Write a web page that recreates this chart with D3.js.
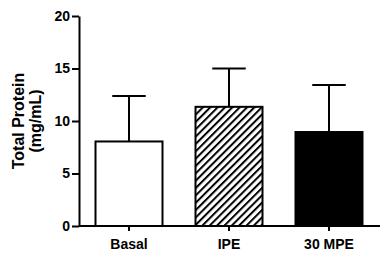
<!DOCTYPE html>
<html>
<head>
<meta charset="utf-8">
<script src="https://cdn.jsdelivr.net/npm/d3@7"></script>
<style>
  body { margin: 0; background: #fff; }
  text { font-family: "Liberation Sans", Arial, sans-serif; font-weight: bold; fill: #000; }
</style>
</head>
<body>
<div id="chart"></div>
<script>
// Chart values
const categories = ["Basal", "IPE", "30 MPE"];
const means = [8.05, 11.35, 8.95];
const errors = [4.33, 3.65, 4.48];
const yTicks = [0, 5, 10, 15, 20];
const fills = ["#fff", "url(#hatch)", "#000"];

const width = 392;
const height = 262;

const svg = d3.select("#chart")
    .append("svg")
    .attr("width", width)
    .attr("height", height);

// Diagonal hatching for the IPE bar
const pattern = svg.append("defs").append("pattern")
    .attr("id", "hatch")
    .attr("patternUnits", "userSpaceOnUse")
    .attr("width", 5.2)
    .attr("height", 5.2)
    .attr("patternTransform", "rotate(45)");
pattern.append("rect").attr("width", 5.2).attr("height", 5.2).attr("fill", "#fff");
pattern.append("rect").attr("width", 2).attr("height", 5.2).attr("fill", "#000");

// Scales
const x = d3.scaleBand()
    .domain(categories)
    .range([79, 379])
    .paddingInner(0.33)
    .paddingOuter(0.165);

const y = d3.scaleLinear()
    .domain([0, 20])
    .range([226, 16]);

const data = categories.map((c, i) => ({ name: c, mean: means[i], err: errors[i], fill: fills[i] }));

// Error bars (upper only)
const bw = x.bandwidth();
svg.selectAll(".err")
    .data(data)
    .enter()
    .append("line")
    .attr("x1", d => x(d.name) + bw / 2)
    .attr("x2", d => x(d.name) + bw / 2)
    .attr("y1", d => y(d.mean))
    .attr("y2", d => y(d.mean + d.err))
    .attr("stroke", "#000")
    .attr("stroke-width", 2);

svg.selectAll(".cap")
    .data(data)
    .enter()
    .append("line")
    .attr("x1", d => x(d.name) + bw / 4)
    .attr("x2", d => x(d.name) + bw * 3 / 4)
    .attr("y1", d => y(d.mean + d.err))
    .attr("y2", d => y(d.mean + d.err))
    .attr("stroke", "#000")
    .attr("stroke-width", 2);

// Bars
svg.selectAll(".bar")
    .data(data)
    .enter()
    .append("rect")
    .attr("x", d => x(d.name))
    .attr("y", d => y(d.mean))
    .attr("width", bw)
    .attr("height", d => y(0) - y(d.mean))
    .attr("fill", d => d.fill)
    .attr("stroke", "#000")
    .attr("stroke-width", 2);

// Y axis
const yAxis = svg.append("g")
    .attr("transform", "translate(79,0)")
    .call(d3.axisLeft(y).tickValues(yTicks).tickSize(7).tickSizeOuter(0).tickPadding(2));
yAxis.select(".domain").attr("stroke-width", 2);
yAxis.selectAll(".tick line").attr("stroke-width", 2);
yAxis.selectAll(".tick text")
    .style("font-size", "14px")
    .style("font-family", "Liberation Sans, Arial, sans-serif")
    .style("font-weight", "bold")
    .attr("fill", "#000");

// X axis
const xAxis = svg.append("g")
    .attr("transform", "translate(0,226)")
    .call(d3.axisBottom(x).tickSize(5).tickSizeOuter(0).tickPadding(8));
xAxis.select(".domain").attr("d", "M79,0H380").attr("stroke-width", 2);
xAxis.selectAll(".tick line").attr("stroke-width", 2);
xAxis.selectAll(".tick text")
    .style("font-size", "14px")
    .style("font-family", "Liberation Sans, Arial, sans-serif")
    .style("font-weight", "bold")
    .attr("fill", "#000");

// Y axis title
const title = svg.append("text")
    .attr("transform", "translate(24,121) rotate(-90)")
    .attr("text-anchor", "middle")
    .style("font-size", "16px");
title.append("tspan").attr("x", 0).attr("dy", 0).text("Total Protein");
title.append("tspan").attr("x", 0).attr("dy", 16.5).text("(mg/mL)");
</script>
</body>
</html>
